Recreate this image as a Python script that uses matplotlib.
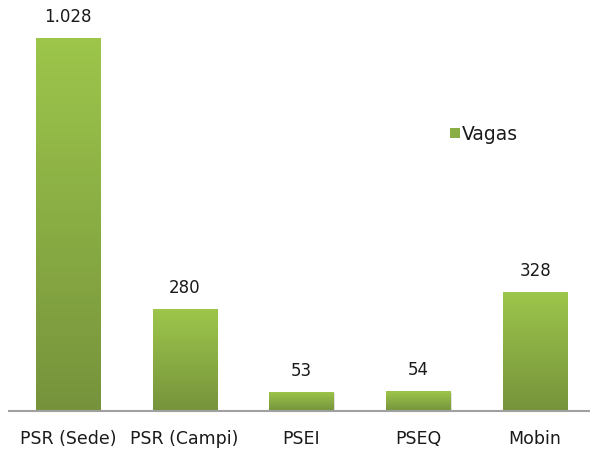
import numpy as np
import matplotlib
matplotlib.use("Agg")
import matplotlib.pyplot as plt
from matplotlib.colors import LinearSegmentedColormap
from matplotlib.patches import Rectangle

categories = ['PSR (Sede)', 'PSR (Campi)', 'PSEI', 'PSEQ', 'Mobin']
vagas = [1028, 280, 53, 54, 328]
value_labels = ['1.028', '280', '53', '54', '328']

top_col = '#9DC64B'
bot_col = '#76933C'
cmap = LinearSegmentedColormap.from_list('grn', [bot_col, top_col])
grad = np.linspace(0, 1, 256).reshape(-1, 1)

fig = plt.figure(figsize=(5.9, 4.51), dpi=100)
ax = fig.add_axes([0.016, 0.0887, 0.99, 0.885])

x = np.arange(len(categories))
bars = ax.bar(x, vagas, width=0.55, color='none', edgecolor='none')
for r in bars:
    bx, by, bw, bh = r.get_x(), r.get_y(), r.get_width(), r.get_height()
    # soft shadow
    ax.add_patch(Rectangle((bx + 0.01, by), bw, bh - 4, facecolor='#000000',
                           alpha=0.12, edgecolor='none', zorder=1))
    im = ax.imshow(grad, cmap=cmap, aspect='auto', origin='lower',
                   extent=[bx, bx + bw, by, by + bh], zorder=2)
    im.set_clip_path(r)

for xi, v, lab in zip(x, vagas, value_labels):
    ax.text(xi, v + 33, lab, ha='center', va='bottom', fontsize=12, color='#1a1a1a')

ax.set_xlim(-0.5, 4.5)
ax.set_ylim(0, 1100)
ax.set_xticks(x)
ax.set_xticklabels(categories, fontsize=12.5, color='#1a1a1a')
ax.tick_params(axis='x', length=0, pad=14)
ax.set_yticks([])
for s in ['top', 'right', 'left']:
    ax.spines[s].set_visible(False)
ax.spines['bottom'].set_color('#A0A0A0')
ax.spines['bottom'].set_linewidth(1.5)
ax.spines['bottom'].set_zorder(3)

# legend
fig.patches.append(Rectangle((450 / 590, 1 - 138 / 451), 10 / 590, 10 / 451,
                             transform=fig.transFigure, facecolor='#8AAE45',
                             edgecolor='none'))
fig.text(462 / 590, 1 - 134 / 451, 'Vagas', fontsize=13.5, va='center',
         color='#1a1a1a')

fig.savefig('out.png', dpi=100)
